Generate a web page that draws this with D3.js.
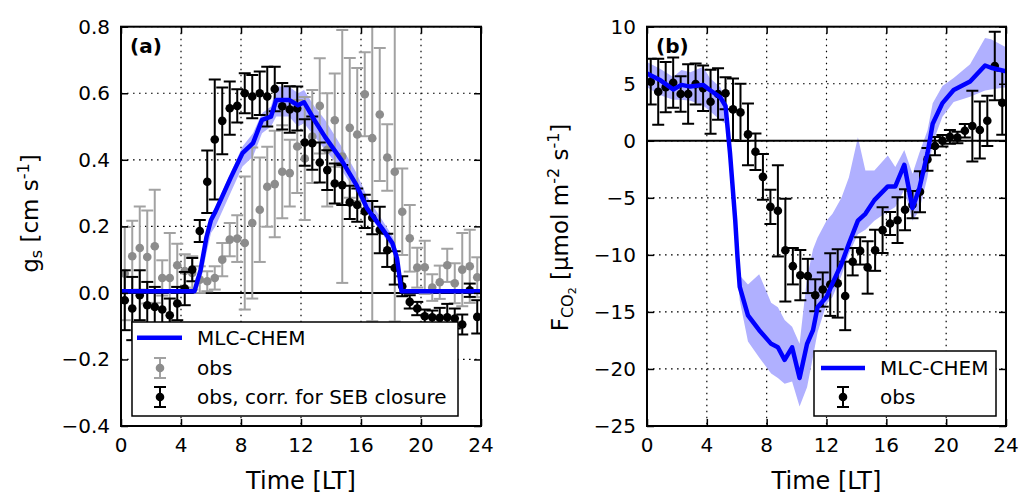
<!DOCTYPE html>
<html><head><meta charset="utf-8">
<script src="https://cdn.jsdelivr.net/npm/d3@7"></script>
<style>body{margin:0;background:#fff;} text{font-family:"DejaVu Sans",sans-serif;fill:#000;}</style>
</head><body><svg id="c" width="1023" height="496"></svg>
<script>
// ---------- data ----------
const obsTime = [0.25,0.75,1.25,1.75,2.25,2.75,3.25,3.75,4.25,4.75,5.25,5.75,6.25,6.75,7.25,7.75,8.25,8.75,9.25,9.75,10.25,10.75,11.25,11.75,12.25,12.75,13.25,13.75,14.25,14.75,15.25,15.75,16.25,16.75,17.25,17.75,18.25,18.75,19.25,19.75,20.25,20.75,21.25,21.75,22.25,22.75,23.25,23.75];
const xTicks = [0,4,8,12,16,20,24];
// panel (a): stomatal conductance
const gsObs = [0.058,0.11,0.135,0.108,0.14,0.045,0.045,0.083,0.066,0.06,0.04,0.035,0.045,0.10,0.16,0.163,0.15,0.21,0.25,0.319,0.327,0.364,0.36,0.44,0.404,0.47,0.562,0.43,0.519,0.41,0.496,0.476,0.597,0.465,0.536,0.407,0.364,0.244,0.164,0.076,0.077,0.016,0.032,0.083,0.029,0.07,0.08,0.047];
const gsObsErr = [0.14,0.107,0.125,0.14,0.17,0.053,0.135,0.065,0.05,0.05,0.04,0.03,0.035,0.05,0.05,0.07,0.2,0.227,0.157,0.12,0.16,0.14,0.1,0.14,0.185,0.14,0.143,0.17,0.14,0.38,0.21,0.2,0.126,0.55,0.2,0.1,0.45,0.13,0.1,0.06,0.08,0.04,0.05,0.05,0.06,0.11,0.11,0.06];
const gsCorr = [-0.022,-0.047,-0.007,-0.037,-0.042,-0.05,-0.067,-0.032,0.013,0.07,0.186,0.334,0.461,0.517,0.555,0.562,0.6,0.59,0.6,0.59,0.613,0.561,0.551,0.554,0.452,0.45,0.392,0.369,0.329,0.324,0.272,0.264,0.245,0.226,0.189,0.128,0.075,0.02,-0.027,-0.047,-0.07,-0.073,-0.075,-0.073,-0.077,-0.095,0.008,-0.072];
const gsCorrErr = [0.09,0.095,0.075,0.07,0.06,0.05,0.05,0.05,0.05,0.035,0.033,0.094,0.18,0.1,0.08,0.05,0.06,0.065,0.065,0.09,0.067,0.07,0.07,0.066,0.07,0.08,0.06,0.06,0.06,0.06,0.05,0.05,0.05,0.05,0.07,0.05,0.05,0.03,0.02,0.02,0.02,0.02,0.03,0.04,0.03,0.03,0.02,0.05];
const gsModelTime = [0,1,2,3,4,4.9,5.3,5.7,6.0,6.3,7.3,8.1,8.8,9.4,10.0,10.35,11.2,11.8,12.2,12.9,13.6,14.7,15.7,16.4,17.4,18.1,18.4,18.7,19,20,21,22,23,24];
const gsModel = [0.005,0.005,0.005,0.005,0.005,0.005,0.068,0.168,0.219,0.245,0.345,0.42,0.45,0.52,0.53,0.58,0.58,0.564,0.573,0.519,0.469,0.399,0.324,0.254,0.194,0.149,0.104,0.005,0.005,0.005,0.005,0.005,0.005,0.005];
const gsModelLo = [0,0,0,0,0,0,0.03,0.12,0.18,0.2,0.3,0.38,0.41,0.48,0.5,0.53,0.53,0.5,0.51,0.47,0.43,0.37,0.3,0.24,0.18,0.13,0.08,0,0,0,0,0,0,0];
const gsModelHi = [0.01,0.01,0.01,0.01,0.01,0.01,0.075,0.18,0.235,0.26,0.36,0.44,0.48,0.54,0.56,0.62,0.62,0.6,0.61,0.56,0.52,0.44,0.36,0.29,0.22,0.17,0.125,0.02,0.01,0.01,0.01,0.01,0.01,0.01];
const gsTicks = [-0.4,-0.2,0.0,0.2,0.4,0.6,0.8];
// panel (b): CO2 flux
const fcoObs = [5.18,4.3,4.7,5.09,4.1,4.1,4.97,4.6,3.42,4.1,4.16,2.75,2.49,0.56,-0.96,-3.16,-5.79,-6.14,-9.59,-10.99,-11.78,-11.85,-13.54,-13.04,-12.6,-12.5,-13.6,-10.6,-9.65,-11.1,-9.6,-7.83,-7.25,-6.96,-6.05,-5.6,-4.47,-1.63,-0.46,0.0,0.35,0.29,0.88,1.29,0.94,1.75,6.55,3.33];
const fcoObsErr = [2.0,2.9,2.2,2.2,1.55,2.6,1.8,2.0,2.8,2.25,1.4,2.7,2.5,2.7,1.6,2.0,1.5,4.0,4.5,1.6,2.2,1.5,1.4,1.5,2.75,3.0,3.0,1.2,1.2,2.3,1.8,2.0,1.0,2.0,1.8,1.2,1.8,1.0,0.8,0.5,0.6,0.5,0.6,3.1,2.5,2.2,3.0,2.8];
const fcoModelTime = [0,0.9,1.75,2.3,2.9,3.75,4.2,4.9,5.25,5.55,5.9,6.05,6.2,6.75,7.5,8.3,8.75,9.2,9.7,10.2,10.7,11.1,11.4,12.0,12.4,13.0,13.5,14.1,14.6,15.2,16.1,16.6,17.2,17.75,18.2,18.75,19.1,19.75,20.5,21.6,22.6,23.0,24];
const fcoModel = [5.9,5.3,4.5,4.9,4.75,4.9,4.45,3.8,3.05,-1.1,-7.0,-10.2,-12.8,-15.3,-16.6,-17.8,-18.1,-19.2,-18.1,-20.8,-17.8,-16.6,-14.6,-13.7,-12.5,-10.8,-9.0,-7.0,-6.4,-5.2,-4.0,-4.0,-2.1,-5.9,-4.2,-1.1,1.5,3.3,4.45,5.2,6.6,6.4,6.1];
const fcoModelLo = [4.7,4.0,3.6,3.6,3.5,3.1,2.6,1.8,1.5,-2.5,-8.0,-11.5,-14.0,-17.6,-19.0,-20.4,-20.8,-21.3,-21.1,-23.3,-21.6,-18.9,-16.8,-14.3,-13.7,-11.8,-9.9,-8.2,-7.8,-7.0,-6.2,-5.8,-4.3,-7.0,-6.1,-3.2,-0.2,2.1,3.4,3.85,4.4,4.5,4.7];
const fcoModelHi = [6.9,6.3,5.6,6.2,6.0,6.5,5.5,4.7,3.6,0.0,-6.0,-9.5,-11.8,-12.6,-11.7,-14.2,-14.6,-15.7,-16.3,-17.8,-12.0,-9.5,-8.5,-7.0,-6.4,-5.0,-3.2,0.3,-2.6,-2.6,-1.3,-2.3,-0.8,-2.9,-1.1,0.9,3.3,4.8,5.5,6.7,9.0,8.9,8.2];
const fcoTicks = [-25,-20,-15,-10,-5,0,5,10];

// ---------- drawing ----------
const svg = d3.select("#c");
svg.append("rect").attr("width",1023).attr("height",496).attr("fill","#fff");
const BLUE = "#0000ff", BAND = "#b0b0ff", GRAYBAR = "#a2a2a2", GRAYDOT = "#8c8c8c";

function panel(opt) {
  const x = d3.scaleLinear([0,24],[opt.x0,opt.x1]);
  const y = d3.scaleLinear(opt.ydom,[opt.y1,opt.y0]);
  const g = svg.append("g");
  const cid = "clip"+opt.id;
  svg.append("clipPath").attr("id",cid).append("rect")
    .attr("x",opt.x0).attr("y",opt.y0).attr("width",opt.x1-opt.x0).attr("height",opt.y1-opt.y0);
  const inner = g.append("g").attr("clip-path",`url(#${cid})`);
  // grid
  const grid = inner.append("g").attr("stroke","#000").attr("stroke-width",1.2).attr("stroke-dasharray","1.6,4.4");
  xTicks.forEach(t=>grid.append("line").attr("x1",x(t)).attr("x2",x(t)).attr("y1",opt.y0).attr("y2",opt.y1));
  opt.yticks.forEach(t=>grid.append("line").attr("y1",y(t)).attr("y2",y(t)).attr("x1",opt.x0).attr("x2",opt.x1));
  // band
  const bandData = opt.mt.map((t,i)=>({t,lo:opt.mlo[i],hi:opt.mhi[i]}));
  inner.append("path").datum(bandData).attr("fill",BAND).attr("stroke","none")
    .attr("d",d3.area().x(d=>x(d.t)).y0(d=>y(d.lo)).y1(d=>y(d.hi)));
  // zero line
  inner.append("line").attr("x1",opt.x0).attr("x2",opt.x1).attr("y1",y(0)).attr("y2",y(0))
    .attr("stroke","#000").attr("stroke-width",2);
  // error bars
  function errbars(vals, errs, color, dotColor) {
    const eg = inner.append("g");
    obsTime.forEach((t,i)=>{
      const cx = x(t), v = vals[i], e = errs[i];
      const ya = y(v-e), yb = y(v+e);
      eg.append("line").attr("x1",cx).attr("x2",cx).attr("y1",ya).attr("y2",yb).attr("stroke",color).attr("stroke-width",2);
      [ya,yb].forEach(yy=>eg.append("line").attr("x1",cx-6).attr("x2",cx+6).attr("y1",yy).attr("y2",yy).attr("stroke",color).attr("stroke-width",2));
    });
    obsTime.forEach((t,i)=>eg.append("circle").attr("cx",x(t)).attr("cy",y(vals[i])).attr("r",4.3).attr("fill",dotColor));
  }
  opt.series.forEach(s=>errbars(s.v,s.e,s.c,s.dc));
  // model line
  const md = opt.mt.map((t,i)=>({t,v:opt.m[i]}));
  inner.append("path").datum(md).attr("fill","none").attr("stroke",BLUE).attr("stroke-width",4.5)
    .attr("stroke-linejoin","round").attr("d",d3.line().x(d=>x(d.t)).y(d=>y(d.v)));
  // axes ticks (inward, all sides)
  const axStyle = sel=>{sel.select(".domain").remove(); sel.selectAll(".tick line").attr("stroke","#000").attr("stroke-width",1.5); sel.selectAll("text").remove();};
  g.append("g").attr("transform",`translate(0,${opt.y1})`).call(d3.axisBottom(x).tickValues(xTicks).tickSizeInner(-7).tickSizeOuter(0)).call(axStyle);
  g.append("g").attr("transform",`translate(0,${opt.y0})`).call(d3.axisTop(x).tickValues(xTicks).tickSizeInner(-7).tickSizeOuter(0)).call(axStyle);
  g.append("g").attr("transform",`translate(${opt.x0},0)`).call(d3.axisLeft(y).tickValues(opt.yticks).tickSizeInner(-7).tickSizeOuter(0)).call(axStyle);
  g.append("g").attr("transform",`translate(${opt.x1},0)`).call(d3.axisRight(y).tickValues(opt.yticks).tickSizeInner(-7).tickSizeOuter(0)).call(axStyle);
  // frame
  g.append("rect").attr("x",opt.x0).attr("y",opt.y0).attr("width",opt.x1-opt.x0).attr("height",opt.y1-opt.y0)
    .attr("fill","none").attr("stroke","#000").attr("stroke-width",2);
  // tick labels
  xTicks.forEach(t=>g.append("text").attr("x",x(t)).attr("y",452).attr("text-anchor","middle").attr("font-size",20).text(t));
  opt.yticks.forEach(t=>g.append("text").attr("x",opt.x0-11).attr("y",y(t)+7).attr("text-anchor","end").attr("font-size",20).text(opt.fmt(t)));
  g.append("text").attr("x",(opt.x0+opt.x1)/2).attr("y",489).attr("text-anchor","middle").attr("font-size",24).text("Time [LT]");
  // panel letter
  g.append("text").attr("x",opt.x0+9).attr("y",53).attr("font-size",20).attr("font-weight","bold").text(opt.letter);
  return {x,y,g};
}

const A = panel({id:"a",x0:121,x1:481,y0:26.7,y1:426,ydom:[-0.4,0.8],yticks:gsTicks,fmt:d3.format(".1f"),
  mt:gsModelTime,m:gsModel,mlo:gsModelLo,mhi:gsModelHi,letter:"(a)",
  series:[{v:gsObs,e:gsObsErr,c:GRAYBAR,dc:GRAYDOT},{v:gsCorr,e:gsCorrErr,c:"#000",dc:"#000"}]});
const B = panel({id:"b",x0:647,x1:1006,y0:26.7,y1:426,ydom:[-25,10],yticks:fcoTicks,fmt:d3.format("d"),
  mt:fcoModelTime,m:fcoModel,mlo:fcoModelLo,mhi:fcoModelHi,letter:"(b)",
  series:[{v:fcoObs,e:fcoObsErr,c:"#000",dc:"#000"}]});

// y labels
const la = svg.append("text").attr("transform","translate(38,213.5) rotate(-90)").attr("text-anchor","middle").attr("font-size",23);
la.append("tspan").text("g");
la.append("tspan").attr("font-size",16).attr("dy",4).text("s");
la.append("tspan").attr("dy",-4).text(" [cm s");
la.append("tspan").attr("font-size",16).attr("dy",-9).text("-1");
la.append("tspan").attr("dy",9).text("]");
const lb = svg.append("text").attr("transform","translate(568,227.5) rotate(-90)").attr("text-anchor","middle").attr("font-size",23);
lb.append("tspan").text("F");
lb.append("tspan").attr("font-size",16).attr("dy",5).text("CO");
lb.append("tspan").attr("font-size",11).attr("dy",3).text("2");
lb.append("tspan").attr("dy",-8).text("  [μmol m");
lb.append("tspan").attr("font-size",16).attr("dy",-9).text("-2");
lb.append("tspan").attr("dy",9).text(" s");
lb.append("tspan").attr("font-size",16).attr("dy",-9).text("-1");
lb.append("tspan").attr("dy",9).text("]");

// legends
function legendErr(g, cx, cy, color, dotColor) {
  g.append("line").attr("x1",cx).attr("x2",cx).attr("y1",cy-10).attr("y2",cy+10).attr("stroke",color).attr("stroke-width",2);
  [cy-10,cy+10].forEach(yy=>g.append("line").attr("x1",cx-6).attr("x2",cx+6).attr("y1",yy).attr("y2",yy).attr("stroke",color).attr("stroke-width",2));
  g.append("circle").attr("cx",cx).attr("cy",cy).attr("r",4.3).attr("fill",dotColor);
}
const lgA = svg.append("g");
lgA.append("rect").attr("x",132).attr("y",322).attr("width",326).attr("height",94).attr("fill","#fff").attr("stroke","#000").attr("stroke-width",1.5);
lgA.append("line").attr("x1",137).attr("x2",182).attr("y1",337.7).attr("y2",337.7).attr("stroke",BLUE).attr("stroke-width",4.5);
legendErr(lgA,160,368,GRAYBAR,GRAYDOT);
legendErr(lgA,160,397,"#000","#000");
[["MLC-CHEM",345],["obs",375],["obs, corr. for SEB closure",404]].forEach(([t,yy])=>lgA.append("text").attr("x",197).attr("y",yy).attr("font-size",20).text(t));
const lgB = svg.append("g");
lgB.append("rect").attr("x",814).attr("y",351).attr("width",182).attr("height",65).attr("fill","#fff").attr("stroke","#000").attr("stroke-width",1.5);
lgB.append("line").attr("x1",821).attr("x2",865).attr("y1",368).attr("y2",368).attr("stroke",BLUE).attr("stroke-width",4.5);
legendErr(lgB,843,397,"#000","#000");
[["MLC-CHEM",375],["obs",404]].forEach(([t,yy])=>lgB.append("text").attr("x",880).attr("y",yy).attr("font-size",20).text(t));
</script></body></html>
